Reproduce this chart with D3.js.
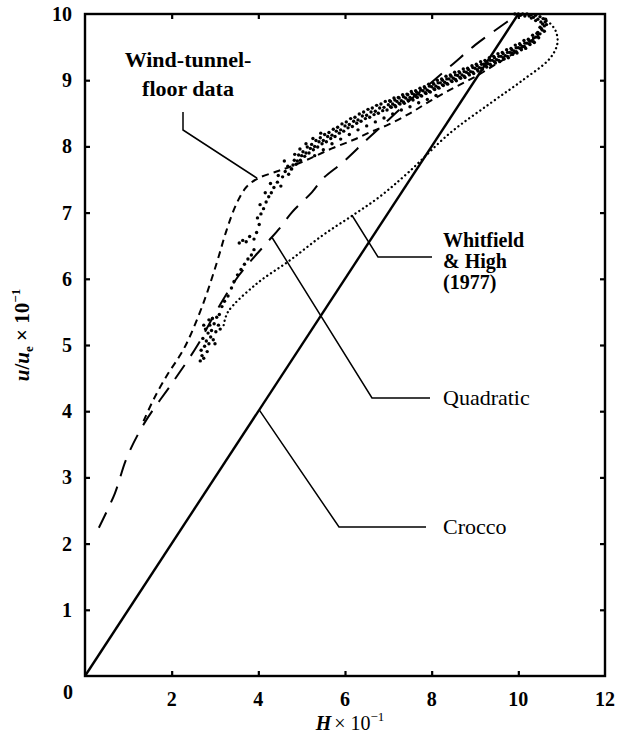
<!DOCTYPE html>
<html>
<head>
<meta charset="utf-8">
<script src="https://cdn.jsdelivr.net/npm/d3@7"></script>
<style>
  body { margin: 0; background: #fff; }
  svg { display: block; }
  text { font-family: "Liberation Serif", "DejaVu Serif", serif; fill: #000; }
</style>
</head>
<body>
<svg id="chart" width="621" height="735"></svg>
<script>
// ---- axis ticks ----
const xTickValues = [2, 4, 6, 8, 10, 12];
const yTickValues = [1, 2, 3, 4, 5, 6, 7, 8, 9, 10];

// ---- curves: [H x 10^-1, u/ue x 10^-1] ----
const crocco = [[0, 0], [10, 10]];

const quadratic = [
  [0.32, 2.24], [0.69, 2.76], [0.96, 3.29], [1.37, 3.82], [2.06, 4.47],
  [2.6, 5.0], [3.02, 5.5], [3.55, 6.05], [4.15, 6.51], [4.5, 6.77],
  [4.77, 7.0], [5.24, 7.31], [5.5, 7.52], [5.95, 7.76], [6.5, 8.1],
  [7.0, 8.4], [7.5, 8.7], [8.0, 8.97], [8.5, 9.25], [9.0, 9.53],
  [9.5, 9.77], [10.0, 10.0]
];

const windTunnelFloor = [
  [1.35, 3.85], [1.6, 4.2], [1.9, 4.55], [2.15, 4.8], [2.35, 5.03],
  [2.73, 5.63], [3.04, 6.24], [3.27, 6.74], [3.5, 7.14], [3.73, 7.39],
  [4.0, 7.52], [4.42, 7.62], [4.73, 7.69], [5.2, 7.82], [5.7, 7.97],
  [6.2, 8.1], [6.6, 8.22], [7.0, 8.33], [7.5, 8.5], [8.0, 8.7],
  [8.5, 8.88], [9.0, 9.05], [9.5, 9.25], [10.0, 9.45], [10.4, 9.65]
];

const whitfieldHigh = [
  [3.2, 5.3], [3.3, 5.5], [3.97, 5.93], [4.73, 6.28], [5.49, 6.66],
  [6.18, 6.96], [6.8, 7.24], [7.45, 7.6], [8.42, 8.2], [9.35, 8.65],
  [10.1, 9.0], [10.73, 9.33], [10.9, 9.55], [10.87, 9.73], [10.73, 9.86],
  [10.5, 9.95]
];

// ---- measured profile points ----
const lowerCluster = [
  [2.66, 4.76], [2.70, 4.84], [2.74, 4.80], [2.68, 4.92], [2.76, 4.98],
  [2.82, 4.90], [2.80, 5.06], [2.72, 5.10], [2.86, 5.02], [2.90, 5.12],
  [2.84, 5.18], [2.78, 5.24], [2.92, 5.22], [2.96, 5.08], [2.88, 5.30],
  [2.98, 5.32], [3.02, 5.20], [2.94, 5.40], [3.04, 5.42], [3.08, 5.30],
  [3.12, 5.24], [3.00, 5.02], [2.74, 5.30], [2.86, 5.38], [3.10, 5.46]
];

const sparsePoints = [
  [3.16, 5.58], [3.22, 5.66], [3.30, 5.74], [3.38, 5.86], [3.44, 5.96],
  [3.52, 6.06], [3.60, 6.14], [3.68, 6.22], [3.76, 6.30], [3.84, 6.36],
  [3.90, 6.44], [3.56, 6.54], [3.64, 6.58], [3.72, 6.56], [3.80, 6.64],
  [3.90, 6.60], [3.96, 6.70], [4.02, 6.82], [3.98, 6.92], [4.06, 6.98],
  [4.12, 7.06], [4.04, 7.12], [4.18, 7.16], [4.24, 7.24], [4.16, 7.30],
  [4.30, 7.30], [4.36, 7.38], [4.28, 7.44], [4.44, 7.46], [4.52, 7.40],
  [4.46, 7.56], [4.56, 7.54], [4.62, 7.62], [4.70, 7.58], [4.68, 7.70],
  [4.76, 7.66], [4.60, 7.78], [4.84, 7.88], [4.96, 7.96], [5.10, 8.04],
  [5.26, 8.12], [5.44, 8.20]
];

const bandUpper = [
  [4.83, 7.79], [4.93, 7.87], [5.03, 7.92], [5.13, 7.99], [5.23, 8.03],
  [5.33, 8.09], [5.43, 8.13], [5.53, 8.18], [5.63, 8.21], [5.73, 8.26],
  [5.83, 8.29], [5.93, 8.34], [6.03, 8.37], [6.13, 8.42], [6.23, 8.44],
  [6.33, 8.49], [6.43, 8.52], [6.53, 8.56], [6.63, 8.58], [6.73, 8.62],
  [6.83, 8.64], [6.93, 8.68], [7.03, 8.69], [7.13, 8.73], [7.23, 8.74],
  [7.33, 8.78], [7.43, 8.79], [7.53, 8.83], [7.63, 8.84], [7.73, 8.88],
  [7.83, 8.90], [7.93, 8.94], [8.03, 8.96], [8.13, 9.00], [8.23, 9.02],
  [8.33, 9.06], [8.43, 9.08], [8.53, 9.12], [8.63, 9.13], [8.73, 9.17],
  [8.83, 9.18], [8.93, 9.22], [9.03, 9.24], [9.13, 9.28], [9.23, 9.30],
  [9.33, 9.34], [9.43, 9.36], [9.53, 9.40], [9.63, 9.42], [9.73, 9.46],
  [9.83, 9.48], [9.93, 9.53], [10.03, 9.55], [10.13, 9.60], [10.23, 9.62],
  [10.33, 9.68], [10.43, 9.71], [10.53, 9.78]
];

const bandMiddle = [
  [4.80, 7.72], [4.90, 7.78], [5.00, 7.86], [5.10, 7.90], [5.20, 7.97],
  [5.30, 8.00], [5.40, 8.07], [5.50, 8.09], [5.60, 8.15], [5.70, 8.17],
  [5.80, 8.23], [5.90, 8.25], [6.00, 8.31], [6.10, 8.33], [6.20, 8.38],
  [6.30, 8.40], [6.40, 8.46], [6.50, 8.47], [6.60, 8.52], [6.70, 8.53],
  [6.80, 8.58], [6.90, 8.59], [7.00, 8.63], [7.10, 8.64], [7.20, 8.68],
  [7.30, 8.69], [7.40, 8.73], [7.50, 8.74], [7.60, 8.78], [7.70, 8.79],
  [7.80, 8.84], [7.90, 8.85], [8.00, 8.90], [8.10, 8.91], [8.20, 8.96],
  [8.30, 8.97], [8.40, 9.02], [8.50, 9.03], [8.60, 9.07], [8.70, 9.08],
  [8.80, 9.12], [8.90, 9.13], [9.00, 9.18], [9.10, 9.19], [9.20, 9.24],
  [9.30, 9.25], [9.40, 9.30], [9.50, 9.31], [9.60, 9.36], [9.70, 9.37],
  [9.80, 9.42], [9.90, 9.44], [10.00, 9.49], [10.10, 9.51], [10.20, 9.56],
  [10.30, 9.59], [10.40, 9.65], [10.50, 9.70]
];

const bandLower = [
  [4.77, 7.66], [4.87, 7.73], [4.97, 7.79], [5.07, 7.85], [5.17, 7.90],
  [5.27, 7.95], [5.37, 7.99], [5.47, 8.04], [5.57, 8.07], [5.67, 8.12],
  [5.77, 8.15], [5.87, 8.20], [5.97, 8.23], [6.07, 8.28], [6.17, 8.30],
  [6.27, 8.35], [6.37, 8.38], [6.47, 8.42], [6.57, 8.44], [6.67, 8.48],
  [6.77, 8.50], [6.87, 8.54], [6.97, 8.55], [7.07, 8.59], [7.17, 8.60],
  [7.27, 8.64], [7.37, 8.65], [7.47, 8.69], [7.57, 8.70], [7.67, 8.74],
  [7.77, 8.76], [7.87, 8.80], [7.97, 8.82], [8.07, 8.86], [8.17, 8.88],
  [8.27, 8.92], [8.37, 8.94], [8.47, 8.98], [8.57, 8.99], [8.67, 9.03],
  [8.77, 9.04], [8.87, 9.08], [8.97, 9.10], [9.07, 9.14], [9.17, 9.16],
  [9.27, 9.20], [9.37, 9.22], [9.47, 9.26], [9.57, 9.28], [9.67, 9.32],
  [9.77, 9.34], [9.87, 9.39], [9.97, 9.41], [10.07, 9.46], [10.17, 9.48],
  [10.27, 9.54], [10.37, 9.57], [10.47, 9.64]
];

// denser core of the outer part of the profile
const bandInnerUpper = [
  [7.05, 8.68], [7.15, 8.70], [7.25, 8.73], [7.35, 8.75], [7.45, 8.78],
  [7.55, 8.80], [7.65, 8.82], [7.75, 8.85], [7.85, 8.88], [7.95, 8.91],
  [8.05, 8.94], [8.15, 8.96], [8.25, 9.00], [8.35, 9.02], [8.45, 9.06],
  [8.55, 9.08], [8.65, 9.11], [8.75, 9.13], [8.85, 9.16], [8.95, 9.19],
  [9.05, 9.22], [9.15, 9.24], [9.25, 9.28], [9.35, 9.30], [9.45, 9.34],
  [9.55, 9.36], [9.65, 9.40], [9.75, 9.42], [9.85, 9.46], [9.95, 9.49],
  [10.05, 9.53], [10.15, 9.56], [10.25, 9.60], [10.35, 9.64], [10.45, 9.70]
];

const bandInnerLower = [
  [7.05, 8.60], [7.15, 8.62], [7.25, 8.65], [7.35, 8.67], [7.45, 8.70],
  [7.55, 8.72], [7.65, 8.75], [7.75, 8.77], [7.85, 8.81], [7.95, 8.83],
  [8.05, 8.87], [8.15, 8.89], [8.25, 8.93], [8.35, 8.95], [8.45, 8.99],
  [8.55, 9.01], [8.65, 9.04], [8.75, 9.06], [8.85, 9.10], [8.95, 9.12],
  [9.05, 9.16], [9.15, 9.18], [9.25, 9.22], [9.35, 9.24], [9.45, 9.28],
  [9.55, 9.30], [9.65, 9.34], [9.75, 9.36], [9.85, 9.41], [9.95, 9.43],
  [10.05, 9.48], [10.15, 9.50], [10.25, 9.55], [10.35, 9.58], [10.45, 9.66]
];

const lowerStrand = [
  [5.3, 7.86], [5.5, 7.95], [5.7, 8.04], [5.9, 8.11], [6.1, 8.18],
  [6.3, 8.25], [6.5, 8.31], [6.7, 8.37], [6.9, 8.43], [7.1, 8.49],
  [7.3, 8.55], [7.5, 8.60], [7.7, 8.66], [7.9, 8.71], [8.1, 8.77]
];

const edgeCurl = [
  [10.55, 9.76], [10.60, 9.82], [10.62, 9.88], [10.58, 9.93], [10.50, 9.96],
  [10.40, 9.98], [10.30, 9.99], [10.20, 10.0], [10.10, 10.0], [10.00, 10.0],
  [9.92, 10.0], [10.45, 9.72], [10.50, 9.80], [10.52, 9.88], [10.45, 9.92],
  [10.35, 9.95], [10.25, 9.97], [10.60, 9.74], [10.65, 9.84], [10.63, 9.92],
  [10.56, 9.85], [10.40, 9.90], [10.30, 9.94], [10.15, 9.97], [10.05, 9.98]
];

const measured = [].concat(lowerCluster, sparsePoints, bandUpper, bandMiddle,
                           bandLower, bandInnerUpper, bandInnerLower,
                           lowerStrand, edgeCurl);

// ---- labels with leader lines ----
const labels = [
  { lines: ["Wind-tunnel-", "floor data"], weight: "bold", anchor: "middle", size: 22 },
  { lines: ["Whitfield", "& High", "(1977)"], weight: "bold", anchor: "start", size: 20 },
  { lines: ["Quadratic"], weight: "normal", anchor: "start", size: 22 },
  { lines: ["Crocco"], weight: "normal", anchor: "start", size: 22 }
];

// ---- layout ----
const svg = d3.select("#chart");
const margin = { left: 85, right: 16, top: 14, bottom: 59 };
const W = 621, H = 735;
const x = d3.scaleLinear().domain([0, 12]).range([margin.left, W - margin.right]);
const y = d3.scaleLinear().domain([0, 10]).range([H - margin.bottom, margin.top]);

const line = d3.line().x(d => x(d[0])).y(d => y(d[1]));
const smooth = d3.line().x(d => x(d[0])).y(d => y(d[1])).curve(d3.curveCatmullRom.alpha(0.5));

// frame
svg.append("rect")
  .attr("x", x(0)).attr("y", y(10))
  .attr("width", x(12) - x(0)).attr("height", y(0) - y(10))
  .attr("fill", "none").attr("stroke", "#000").attr("stroke-width", 2.4);

// inward ticks on all four sides
const tickLen = 5;
const axisStyle = g => {
  g.select(".domain").remove();
  g.selectAll(".tick line").attr("stroke", "#000").attr("stroke-width", 2.2);
};
svg.append("g").attr("transform", `translate(0,${y(0)})`)
  .call(d3.axisBottom(x).tickValues(xTickValues.slice(0, -1)).tickSize(-tickLen).tickFormat(""))
  .call(axisStyle);
svg.append("g").attr("transform", `translate(0,${y(10)})`)
  .call(d3.axisTop(x).tickValues(xTickValues.slice(0, -1)).tickSize(-tickLen).tickFormat(""))
  .call(axisStyle);
svg.append("g").attr("transform", `translate(${x(0)},0)`)
  .call(d3.axisLeft(y).tickValues(yTickValues.slice(0, -1)).tickSize(-tickLen).tickFormat(""))
  .call(axisStyle);
svg.append("g").attr("transform", `translate(${x(12)},0)`)
  .call(d3.axisRight(y).tickValues(yTickValues.slice(0, -1)).tickSize(-tickLen).tickFormat(""))
  .call(axisStyle);

// tick labels
const tickFont = { size: 20, weight: "bold" };
svg.append("g").selectAll("text").data(xTickValues).join("text")
  .attr("x", d => x(d)).attr("y", y(0) + 30)
  .attr("text-anchor", "middle")
  .attr("font-size", tickFont.size).attr("font-weight", tickFont.weight)
  .text(d => d);
svg.append("g").selectAll("text").data(yTickValues).join("text")
  .attr("x", x(0) - 13).attr("y", d => y(d) + 7)
  .attr("text-anchor", "end")
  .attr("font-size", tickFont.size).attr("font-weight", tickFont.weight)
  .text(d => d);
svg.append("text")
  .attr("x", x(0) - 12).attr("y", y(0) + 23)
  .attr("text-anchor", "end")
  .attr("font-size", tickFont.size).attr("font-weight", tickFont.weight)
  .text("0");

// axis titles
const xTitle = svg.append("text")
  .attr("x", x(6) + 5).attr("y", y(0) + 54)
  .attr("text-anchor", "middle").attr("font-size", 20);
xTitle.append("tspan").attr("font-style", "italic").attr("font-weight", "bold").text("H");
xTitle.append("tspan").attr("dx", 3).text("× 10");
xTitle.append("tspan").attr("font-size", 13).attr("dy", -9).text("−1");

const yTitle = svg.append("text")
  .attr("transform", `translate(29,${y(5) - 10}) rotate(-90)`)
  .attr("text-anchor", "middle").attr("font-size", 21).attr("font-weight", "bold");
yTitle.append("tspan").attr("font-style", "italic").text("u");
yTitle.append("tspan").text("/");
yTitle.append("tspan").attr("font-style", "italic").text("u");
yTitle.append("tspan").attr("font-size", 13).attr("dy", 4).text("e");
yTitle.append("tspan").attr("dy", -4).text(" × 10");
yTitle.append("tspan").attr("font-size", 13).attr("dy", -9).text("−1");

// curves
svg.append("path").datum(crocco).attr("d", line)
  .attr("fill", "none").attr("stroke", "#000").attr("stroke-width", 2.4);
svg.append("path").datum(quadratic).attr("d", smooth)
  .attr("fill", "none").attr("stroke", "#000").attr("stroke-width", 2)
  .attr("stroke-dasharray", "17 11");
svg.append("path").datum(windTunnelFloor).attr("d", smooth)
  .attr("fill", "none").attr("stroke", "#000").attr("stroke-width", 2)
  .attr("stroke-dasharray", "7 5");
svg.append("path").datum(whitfieldHigh).attr("d", smooth)
  .attr("fill", "none").attr("stroke", "#000").attr("stroke-width", 2.3)
  .attr("stroke-linecap", "round").attr("stroke-dasharray", "0.1 4.4");

// measured points
svg.append("g").selectAll("circle").data(measured).join("circle")
  .attr("cx", d => x(d[0])).attr("cy", d => y(d[1]))
  .attr("r", 1.7).attr("fill", "#000");

// leader lines (anchor on curve, then elbows towards the label)
const leaders = [
  { from: [3.97, 7.52], pts: [[183, 130], [183, 112]] },
  { from: [6.16, 6.96], pts: [[378, 257], [432, 257]] },
  { from: [4.32, 6.62], pts: [[372, 398], [430, 398]] },
  { from: [4.02, 4.02], pts: [[339, 527], [426, 527]] }
];
leaders.forEach(l => {
  const p = [[x(l.from[0]), y(l.from[1])]].concat(l.pts);
  svg.append("path").attr("d", d3.line()(p))
    .attr("fill", "none").attr("stroke", "#000").attr("stroke-width", 1.5);
});

// label text
const labelPos = [
  { x: 188, y: 67, dy: 29 },
  { x: 443, y: 247, dy: 21 },
  { x: 443, y: 405, dy: 20 },
  { x: 443, y: 534, dy: 20 }
];
labels.forEach((lab, i) => {
  const t = svg.append("text")
    .attr("font-size", lab.size).attr("font-weight", lab.weight)
    .attr("text-anchor", lab.anchor);
  lab.lines.forEach((s, j) => {
    t.append("tspan").attr("x", labelPos[i].x)
      .attr("y", labelPos[i].y + j * labelPos[i].dy).text(s);
  });
});
</script>
</body>
</html>
